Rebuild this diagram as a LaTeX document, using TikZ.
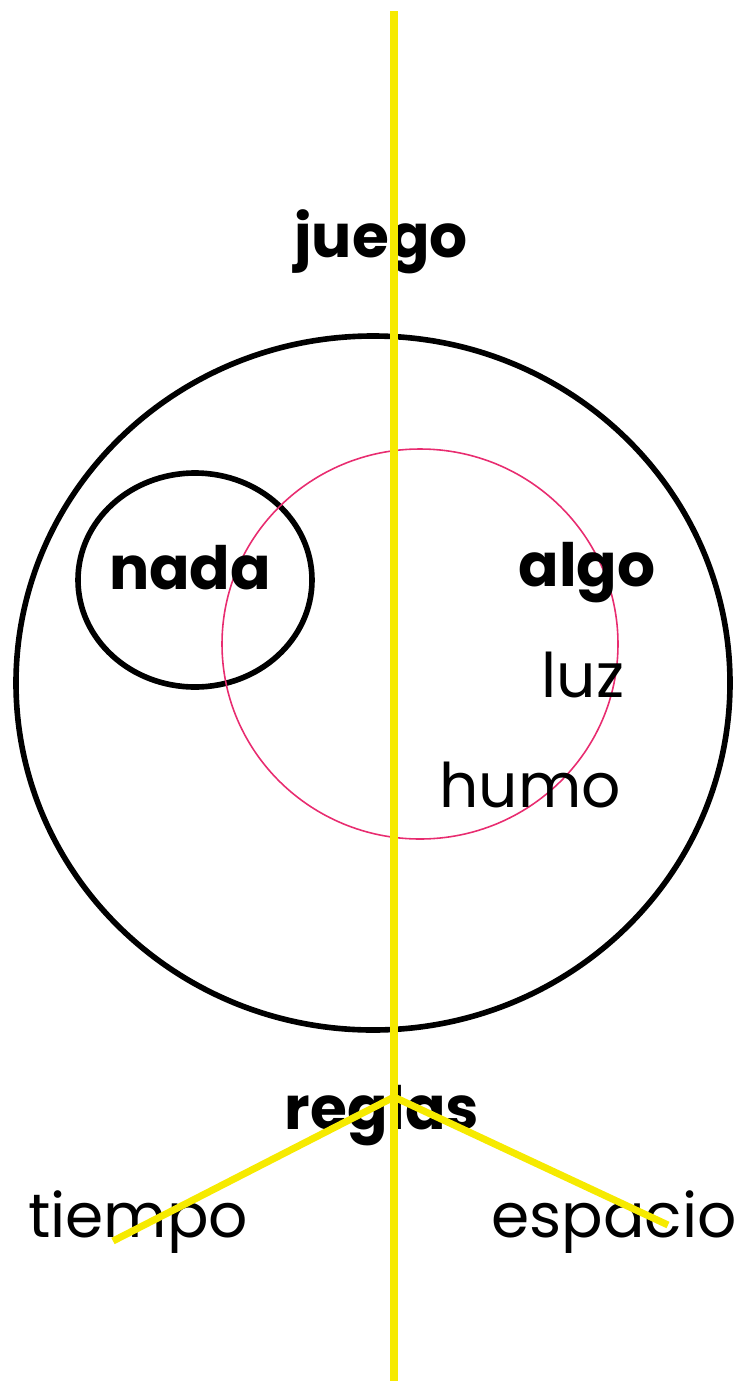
\documentclass[tikz,border=0pt]{standalone}
\usepackage{fontspec}
\setmainfont{Poppins}
\usepackage{xcolor}
\definecolor{rayo}{RGB}{246,234,0}
\definecolor{rosa}{RGB}{232,44,112}

\begin{document}
\begin{tikzpicture}[x=0.02cm,y=-0.02cm]
    \pgfmathsetmacro{\width}{740}
    \pgfmathsetmacro{\height}{1383}
    \tikzset{word/.style={font=\fontsize{34}{40}\selectfont\bfseries,inner sep=0pt},
        thin word/.style={font=\fontsize{35}{40}\selectfont,inner sep=0pt},
        ring/.style={draw=black,line width=3.2pt},
        axis/.style={draw=rayo,line width=4pt}}
    \useasboundingbox (0,0) rectangle (\width,\height);
    \draw[ring] (373,683) ellipse [x radius=357,y radius=347];
    \draw[ring] (195,580) ellipse [x radius=117,y radius=107];
    \draw[rosa,line width=0.9pt] (420,644) ellipse [x radius=198,y radius=195];
    \node[word] (juego) at (381,242) {juego};
    \node[word] (nada) at (190,568) {nada};
    \node[word] (algo) at (587,573) {algo};
    \node[thin word] (luz) at (583,675) {luz};
    \node[thin word] (humo) at (530,785) {humo};
    \node[word] (reglas) at (382,1116) {reglas};
    \node[thin word] (tiempo) at (138,1222) {tiempo};
    \node[thin word] (espacio) at (614,1222) {espacio};
    \coordinate (top) at (394,11);
    \coordinate (bottom) at (394,1381);
    \coordinate (knot) at (394,1097);
    \coordinate (left end) at (113,1241);
    \coordinate (right end) at (668,1225);
    \draw[axis] (top) -- (bottom);
    \draw[axis] (left end) -- (knot) -- (right end);
\end{tikzpicture}
\end{document}
